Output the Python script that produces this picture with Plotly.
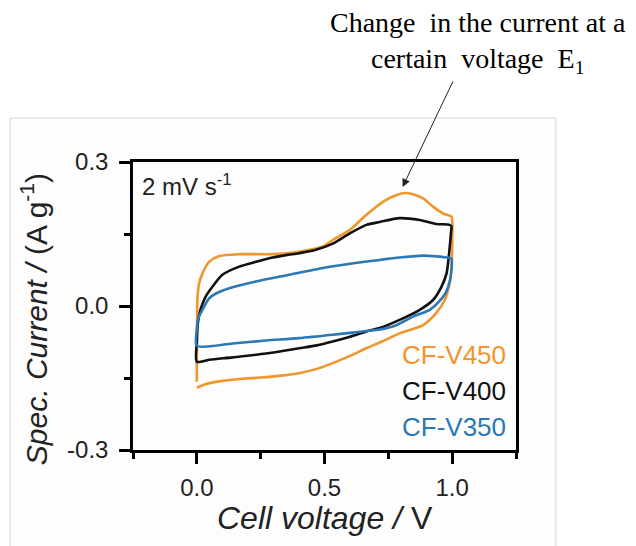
import plotly.graph_objects as go

# Cyclic voltammograms at 2 mV/s: forward scan (0 -> 1 V) then reverse scan (1 -> 0 V)
v450 = [0.000, 0.000, 0.001, 0.002, 0.008, 0.022, 0.048, 0.088, 0.166, 0.297, 0.400, 0.493,
        0.532, 0.598, 0.664, 0.729, 0.768, 0.807, 0.847, 0.886, 0.925, 0.964, 0.997, 1.000,
        1.000, 0.998, 0.990, 0.971, 0.937, 0.886, 0.794, 0.730, 0.664, 0.600, 0.532, 0.470,
        0.400, 0.330, 0.250, 0.170, 0.100, 0.040, 0.000]
i450 = [-0.158, -0.100, -0.040, 0.010, 0.045, 0.068, 0.092, 0.104, 0.108, 0.108, 0.113, 0.124,
        0.1375, 0.158, 0.190, 0.217, 0.228, 0.235, 0.233, 0.224, 0.207, 0.193, 0.186, 0.180,
        0.120, 0.082, 0.047, 0.0125, -0.015, -0.040, -0.057, -0.073, -0.088, -0.104, -0.119,
        -0.131, -0.140, -0.145, -0.149, -0.152, -0.156, -0.162, -0.170]

v400 = [0.000, 0.000, 0.004, 0.012, 0.022, 0.035, 0.061, 0.100, 0.166, 0.232, 0.297, 0.349,
        0.400, 0.460, 0.532, 0.598, 0.664, 0.716, 0.794, 0.873, 0.937, 0.990, 0.997,
        0.995, 0.988, 0.978, 0.958, 0.925, 0.873, 0.794, 0.716, 0.664, 0.600, 0.532, 0.470,
        0.400, 0.271, 0.140, 0.050, 0.000]
i400 = [-0.116, -0.075, -0.036, -0.012, 0.004, 0.020, 0.040, 0.065, 0.082, 0.092, 0.101, 0.106,
        0.110, 0.116, 0.130, 0.151, 0.169, 0.175, 0.183, 0.179, 0.171, 0.169, 0.166,
        0.151, 0.110, 0.068, 0.040, 0.0125, -0.008, -0.029, -0.046, -0.053, -0.064, -0.074,
        -0.082, -0.088, -0.099, -0.107, -0.112, -0.116]

v350 = [0.000, 0.000, 0.006, 0.022, 0.048, 0.075, 0.127, 0.232, 0.362, 0.493, 0.600, 0.716,
        0.794, 0.886, 0.978, 0.997, 0.997, 0.990, 0.975, 0.950, 0.912, 0.847, 0.781, 0.716,
        0.664, 0.600, 0.532, 0.400, 0.271, 0.140, 0.000]
i350 = [-0.083, -0.050, -0.025, -0.008, 0.016, 0.026, 0.037, 0.051, 0.065, 0.079, 0.088, 0.096,
        0.101, 0.105, 0.101, 0.099, 0.075, 0.050, 0.028, 0.010, -0.008, -0.022, -0.040, -0.049,
        -0.052, -0.056, -0.060, -0.067, -0.072, -0.078, -0.083]

x_ticks = [0.0, 0.5, 1.0]
x_ticklabels = ["0.0", "0.5", "1.0"]
y_ticks = [-0.3, 0.0, 0.3]
y_ticklabels = ["-0.3", "0.0", "0.3"]

series = [
    ("CF-V450", v450, i450, "#F0962C"),
    ("CF-V400", v400, i400, "#111111"),
    ("CF-V350", v350, i350, "#2B78B4"),
]

fig = go.Figure()
for name, v, i, color in series:
    fig.add_trace(go.Scatter(
        x=v, y=i, mode="lines", name=name,
        line=dict(color=color, width=2.6, shape="spline", smoothing=0.7),
        showlegend=False,
    ))

sans = "Liberation Sans, Arial, sans-serif"
serif = "Liberation Serif, Times New Roman, serif"

axis_common = dict(
    showline=True, linecolor="black", linewidth=2.5, mirror=True,
    ticks="outside", ticklen=11, tickwidth=2.5, tickcolor="black",
    showgrid=False, zeroline=False,
    tickfont=dict(family=sans, size=24, color="#222222"),
)

fig.update_xaxes(
    range=[-0.25, 1.25], tickmode="array", tickvals=x_ticks, ticktext=x_ticklabels,
    minor=dict(ticks="outside", ticklen=6, tickwidth=2.5, tickcolor="black", dtick=0.25, tick0=0),
    ticklabelstandoff=3,
    **axis_common,
)
fig.update_yaxes(
    range=[-0.3, 0.3], tickmode="array", tickvals=y_ticks, ticktext=y_ticklabels,
    minor=dict(ticks="outside", ticklen=6, tickwidth=2.5, tickcolor="black", dtick=0.15, tick0=0),
    ticklabelstandoff=6,
    **axis_common,
)

annotations = [
    # scan-rate label
    dict(x=-0.222, y=0.252, xref="x", yref="y", text="2 mV s<sup>-1</sup>",
         showarrow=False, xanchor="left", yanchor="middle",
         font=dict(family=sans, size=24, color="#222222")),
    # axis titles
    dict(x=0.501, y=-0.236, xref="paper", yref="paper",
         text="<i>Cell voltage /</i> V", showarrow=False,
         xanchor="center", yanchor="middle",
         font=dict(family=sans, size=32, color="#222222")),
    dict(x=-0.258, y=0.455, xref="paper", yref="paper",
         text="<i>Spec. Current /</i> (A g<sup>-1</sup>)", showarrow=False,
         textangle=-90, xanchor="center", yanchor="middle",
         font=dict(family=sans, size=30, color="#222222")),
    # callout text and arrow
    dict(x=0.901, y=1.415, xref="paper", yref="paper",
         text="Change  in the current at a<br>certain  voltage  E<sub>1</sub>",
         showarrow=False, xanchor="center", yanchor="middle", align="center",
         font=dict(family=serif, size=28, color="black")),
    dict(x=0.806, y=0.248, xref="x", yref="y", text="",
         showarrow=True, arrowhead=2, arrowsize=1.6, arrowwidth=1, arrowcolor="#222222",
         ax=51, ay=-107, standoff=0),
]

# series labels stacked at the lower right of the plot
label_y = [-0.102, -0.178, -0.253]
for (name, _, _, color), ly in zip(series, label_y):
    annotations.append(dict(
        x=1.218, y=ly, xref="x", yref="y", text=name, showarrow=False,
        xanchor="right", yanchor="middle",
        font=dict(family=sans, size=26, color=color),
    ))

fig.update_layout(
    width=636, height=546,
    margin=dict(l=133, r=120, t=162, b=96),
    paper_bgcolor="white", plot_bgcolor="rgba(0,0,0,0)",
    annotations=annotations,
    shapes=[dict(type="rect", xref="paper", yref="paper",
                 x0=-0.321, x1=1.104, y0=-0.40, y1=1.153,
                 line=dict(color="#d6d6d6", width=1), fillcolor="#fdfdfd",
                 layer="below")],
)

fig.write_html("out.html")
